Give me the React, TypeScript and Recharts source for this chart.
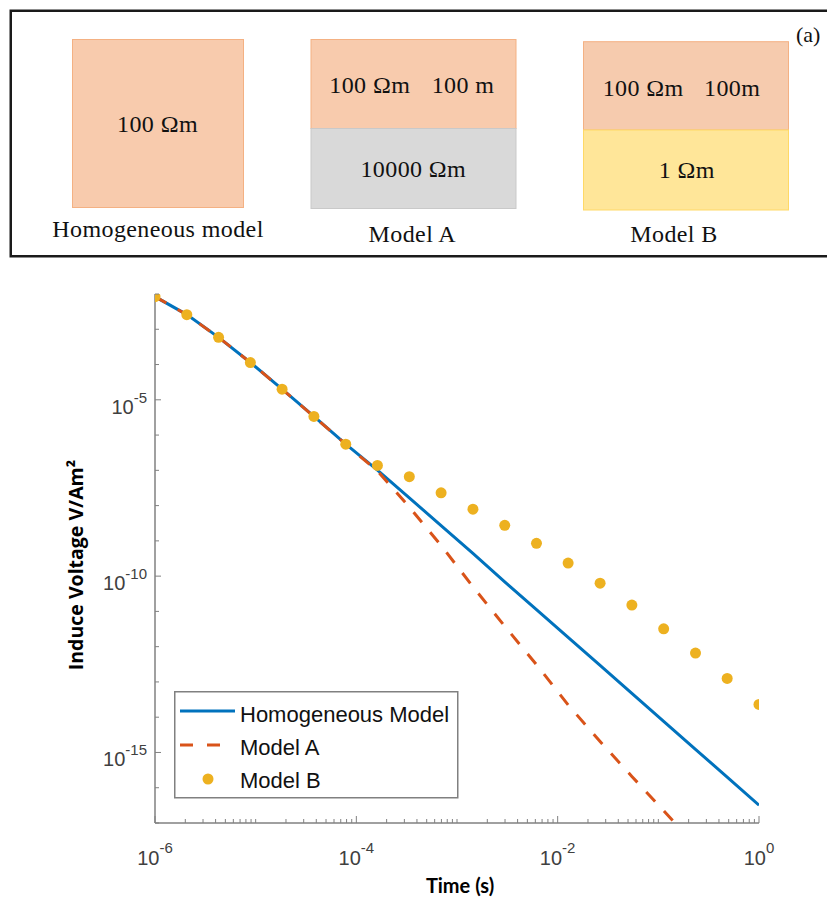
import React from 'react';
import { ComposedChart, Line, Scatter, XAxis, YAxis, Legend } from 'recharts';

// ---- data ----
const TIMES = [1e-6, 2.07e-6, 4.28e-6, 8.86e-6, 1.83e-5, 3.79e-5, 7.85e-5, 1.62e-4, 3.36e-4, 6.95e-4, 1.44e-3, 2.98e-3, 6.16e-3, 1.27e-2, 2.64e-2, 5.46e-2, 0.113, 0.234, 0.483, 1];
const HOMOGENEOUS = [8.4e-3, 2.6e-3, 5.9e-4, 1.14e-4, 2.0e-5, 3.37e-6, 5.5e-7, 1.02e-7, 1.66e-8, 2.7e-9, 4.4e-10, 6.9e-11, 1.12e-11, 1.82e-12, 2.95e-13, 4.7e-14, 7.6e-15, 1.23e-15, 2.0e-16, 3.2e-17];
const MODEL_A = [8.4e-3, 2.6e-3, 5.9e-4, 1.14e-4, 2.0e-5, 3.37e-6, 5.5e-7, 9.55e-8, 9.12e-9, 7.41e-10, 5.01e-11, 3.8e-12, 3.09e-13, 2.24e-14, 2.04e-15, 2.09e-16, 2.24e-17, 2.24e-18];
const MODEL_B = [8.4e-3, 2.6e-3, 5.9e-4, 1.14e-4, 2.0e-5, 3.37e-6, 5.5e-7, 1.38e-7, 6.6e-8, 2.3e-8, 7.9e-9, 2.75e-9, 8.5e-10, 2.34e-10, 6.3e-11, 1.51e-11, 3.2e-12, 6.6e-13, 1.26e-13, 2.3e-14];

const SERIES_NAMES = ['Homogeneous Model', 'Model A', 'Model B'];
const X_DOMAIN = [1e-6, 1];
const Y_DOMAIN = [1e-17, 1e-2];
const X_LABEL_EXP = [-6, -4, -2, 0];
const Y_LABEL_EXP = [-5, -10, -15];
const X_DECADES = [-6, -5, -4, -3, -2, -1, 0];
const Y_DECADES = [-17, -16, -15, -14, -13, -12, -11, -10, -9, -8, -7, -6, -5, -4, -3, -2];
const MINOR_MULT = [1, 2, 3, 4, 5, 6, 7, 8, 9];

const BLUE = '#0072BD';
const RED = '#D95319';
const YELLOW = '#EDB120';
const AXIS = '#808080';
const TICK_TEXT = '#404040';

const homData = TIMES.map((t, i) => ({ t, v: HOMOGENEOUS[i] }));
const aData = MODEL_A.map((v, i) => ({ t: TIMES[i], v }));
const bData = TIMES.map((t, i) => ({ t, v: MODEL_B[i] }));

const xTicks: number[] = [];
X_DECADES.forEach((d) => {
  if (d === 0) { xTicks.push(1); return; }
  MINOR_MULT.forEach((m) => xTicks.push(m * Math.pow(10, d)));
});
const yTicks = Y_DECADES.map((d) => Math.pow(10, d));

const decadeExp = (v: number) => {
  const l = Math.log10(v);
  const e = Math.round(l);
  return Math.abs(l - e) < 1e-6 ? e : null;
};

const SANS = 'Liberation Sans, Arial, sans-serif';

const XTickBottom = (props: any) => {
  const { x, y, payload } = props;
  const e = decadeExp(payload.value);
  const labeled = e !== null && X_LABEL_EXP.includes(e);
  const len = labeled ? 7 : 4;
  return (
    <g>
      <line x1={x} y1={y} x2={x} y2={y - len} stroke={AXIS} strokeWidth={1} />
      {labeled && (
        <text x={x} y={y + 42} textAnchor="middle" fill={TICK_TEXT} fontFamily={SANS} fontSize={20}>
          10<tspan dy={-12} fontSize={15}>{String(e)}</tspan>
        </text>
      )}
    </g>
  );
};

const XTickTop = (props: any) => {
  const { x, y, payload } = props;
  const e = decadeExp(payload.value);
  const labeled = e !== null && X_LABEL_EXP.includes(e);
  const len = labeled ? 7 : 4;
  return <line x1={x} y1={y} x2={x} y2={y + len} stroke={AXIS} strokeWidth={1} />;
};

const YTickLeft = (props: any) => {
  const { x, y, payload } = props;
  const e = decadeExp(payload.value);
  const labeled = e !== null && Y_LABEL_EXP.includes(e);
  const len = labeled ? 6 : 4;
  return (
    <g>
      <line x1={x} y1={y} x2={x + len} y2={y} stroke={AXIS} strokeWidth={1} />
      {labeled && (
        <text x={x - 8} y={y + 14} textAnchor="end" fill={TICK_TEXT} fontFamily={SANS} fontSize={20}>
          10<tspan dy={-11} fontSize={15}>{String(e)}</tspan>
        </text>
      )}
    </g>
  );
};

const YTickRight = (props: any) => {
  const { x, y, payload } = props;
  const e = decadeExp(payload.value);
  const labeled = e !== null && Y_LABEL_EXP.includes(e);
  const len = labeled ? 6 : 4;
  return <line x1={x} y1={y} x2={x - len} y2={y} stroke={AXIS} strokeWidth={1} />;
};

const LegendBox = () => (
  <svg width={286} height={110} style={{ display: 'block' }}>
    <rect x={0.75} y={0.75} width={283} height={106} fill="#fff" stroke={AXIS} strokeWidth={1.5} />
    <line x1={6} y1={20} x2={61} y2={20} stroke={BLUE} strokeWidth={3} />
    <line x1={6} y1={54} x2={48} y2={54} stroke={RED} strokeWidth={3} strokeDasharray="13 14" />
    <circle cx={34} cy={88} r={5.5} fill={YELLOW} />
    {SERIES_NAMES.map((n, i) => (
      <text key={n} x={66} y={[30.7, 63.5, 97][i]} fontFamily={SANS} fontSize={22} fill="#111">
        {n}
      </text>
    ))}
  </svg>
);

const TopPanel = () => {
  const serif = 'Liberation Serif, Times New Roman, serif';
  const fs = 24;
  const ls = 0.4;
  const T = (p: any) => (
    <text fontFamily={serif} fontSize={fs} letterSpacing={ls} fill="#111" {...p} />
  );
  return (
    <svg width={827} height={265} style={{ position: 'absolute', left: 0, top: 0 }}>
      <rect x={10.75} y={10.75} width={830} height={245.5} fill="#fff" stroke="#1a1a1a" strokeWidth={2.5} />
      {/* Homogeneous */}
      <rect x={72.5} y={39.5} width={171} height={168} fill="#F8CBAD" stroke="#F4B183" strokeWidth={1} />
      <T x={157.5} y={131.7} textAnchor="middle">100 Ωm</T>
      <T x={158} y={237.3} textAnchor="middle">Homogeneous model</T>
      {/* Model A */}
      <rect x={311} y={39.5} width={205} height={89} fill="#F8CBAD" stroke="#F4B183" strokeWidth={1} />
      <rect x={311} y={128.5} width={205} height={80} fill="#D9D9D9" stroke="#C9C9C9" strokeWidth={1} />
      <T x={329.3} y={93.3}>100 Ωm</T>
      <T x={431.7} y={93.3}>100 m</T>
      <T x={413.3} y={177.3} textAnchor="middle">10000 Ωm</T>
      <T x={412.3} y={241.7} textAnchor="middle">Model A</T>
      {/* Model B */}
      <rect x={583.5} y={41.7} width={205} height={88.3} fill="#F6CBAE" stroke="#F4B183" strokeWidth={1} />
      <rect x={583.5} y={130} width={205} height={80} fill="#FFE699" stroke="#FFD966" strokeWidth={1} />
      <T x={602.7} y={96}>100 Ωm</T>
      <T x={704} y={96}>100m</T>
      <T x={686.7} y={178.3} textAnchor="middle">1 Ωm</T>
      <T x={674} y={241.7} textAnchor="middle">Model B</T>
      <text x={796} y={41.7} fontFamily={serif} fontSize={22} fill="#111">(a)</text>
    </svg>
  );
};

export default function App() {
  return (
    <div style={{ position: 'absolute', left: 0, top: 0, width: 827, height: 900, overflow: 'hidden', background: '#fff' }}>
      <TopPanel />
      <div style={{ position: 'absolute', left: 0, top: 265 }}>
        <ComposedChart width={827} height={635} margin={{ top: 29, right: 68, bottom: 0, left: 0 }}>
          <XAxis
            dataKey="t"
            type="number"
            scale="log"
            domain={X_DOMAIN}
            allowDataOverflow
            ticks={xTicks}
            interval={0}
            tickSize={0}
            tickMargin={0}
            tickLine={false}
            height={77}
            axisLine={{ stroke: AXIS, strokeWidth: 1.5 }}
            tick={<XTickBottom />}
          />
          <XAxis
            xAxisId="top"
            orientation="top"
            type="number"
            scale="log"
            domain={X_DOMAIN}
            allowDataOverflow
            ticks={xTicks}
            interval={0}
            tickSize={0}
            tickMargin={0}
            tickLine={false}
            height={0}
            axisLine={{ stroke: AXIS, strokeWidth: 1.5 }}
            tick={<XTickTop />}
          />
          <YAxis
            dataKey="v"
            type="number"
            scale="log"
            domain={Y_DOMAIN}
            allowDataOverflow
            ticks={yTicks}
            interval={0}
            tickSize={0}
            tickMargin={0}
            tickLine={false}
            width={155}
            axisLine={{ stroke: AXIS, strokeWidth: 1.5 }}
            tick={<YTickLeft />}
            label={{
              content: () => (
                <text
                  x={83}
                  y={300}
                  transform="rotate(-90, 83, 300)"
                  textAnchor="middle"
                  fontFamily="Open Sans, Lato, sans-serif"
                  fontWeight="bold"
                  fontSize={19.5}
                  fill="#000"
                >
                  Induce Voltage V/Am²
                </text>
              ),
            }}
          />
          <YAxis
            yAxisId="r"
            orientation="right"
            type="number"
            scale="log"
            domain={Y_DOMAIN}
            allowDataOverflow
            ticks={yTicks}
            interval={0}
            tickSize={0}
            tickMargin={0}
            tickLine={false}
            width={0}
            axisLine={{ stroke: AXIS, strokeWidth: 1.5 }}
            tick={<YTickRight />}
          />
          <Line
            data={homData}
            dataKey="v"
            name={SERIES_NAMES[0]}
            type="linear"
            stroke={BLUE}
            strokeWidth={3}
            dot={false}
            activeDot={false}
            isAnimationActive={false}
          />
          <Line
            data={aData}
            dataKey="v"
            name={SERIES_NAMES[1]}
            type="linear"
            stroke={RED}
            strokeWidth={3}
            strokeDasharray="13 13"
            dot={false}
            activeDot={false}
            isAnimationActive={false}
          />
          <Scatter
            data={bData}
            dataKey="v"
            name={SERIES_NAMES[2]}
            fill={YELLOW}
            isAnimationActive={false}
            shape={(p: any) => <circle cx={p.cx} cy={p.cy} r={5.5} fill={YELLOW} />}
          />
          <Legend
            layout="vertical"
            align="center"
            verticalAlign="middle"
            wrapperStyle={{ position: 'absolute', left: 174, top: 426, width: 286, height: 110 }}
            content={() => <LegendBox />}
          />
          <text x={460} y={628} textAnchor="middle" fontFamily="Lato, Open Sans, sans-serif" fontWeight="bold" fontSize={20} fill="#000">
            Time (s)
          </text>
        </ComposedChart>
      </div>
    </div>
  );
}
